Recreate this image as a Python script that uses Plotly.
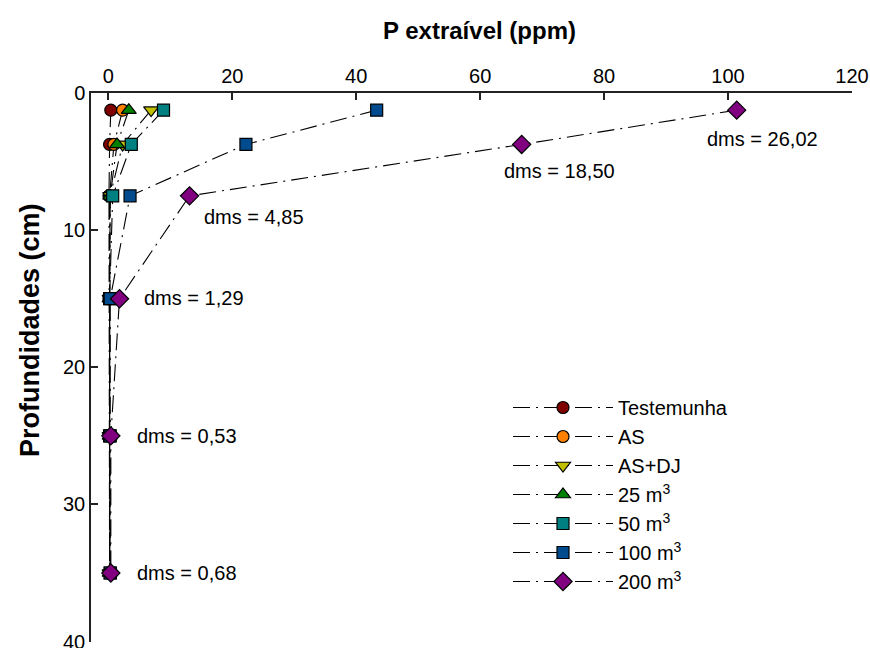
import plotly.graph_objects as go

depths = [1.25, 3.75, 7.5, 15, 25, 35]

series_names = ["Testemunha", "AS", "AS+DJ", "25 m<sup>3</sup>", "50 m<sup>3</sup>", "100 m<sup>3</sup>", "200 m<sup>3</sup>"]
testemunha = [0.4, 0.2, 0.1, 0.1, 0.2, 0.2]
as_vals = [2.3, 0.9, 0.2, 0.2, 0.2, 0.2]
asdj = [6.9, 2.3, 0.3, 0.2, 0.2, 0.2]
m25 = [3.3, 1.4, 0.3, 0.2, 0.2, 0.2]
m50 = [8.9, 3.7, 0.7, 0.2, 0.2, 0.3]
m100 = [43.3, 22.2, 3.5, 0.3, 0.3, 0.3]
m200 = [101.4, 66.7, 13.1, 1.8, 0.4, 0.4]

dms_labels = ["dms = 26,02", "dms = 18,50", "dms = 4,85", "dms = 1,29", "dms = 0,53", "dms = 0,68"]
dms_x = [96.2, 63.5, 15.1, 5.4, 4.3, 4.3]
dms_y = [3.35, 5.7, 9.04, 14.94, 25.0, 35.0]

x_ticks = [0, 20, 40, 60, 80, 100, 120]
y_ticks = [0, 10, 20, 30, 40]

all_vals = [testemunha, as_vals, asdj, m25, m50, m100, m200]
colors = ["#800000", "#FF8000", "#C0C000", "#008000", "#008080", "#004B8D", "#800080"]
symbols = ["circle", "circle", "triangle-down", "triangle-up", "square", "square", "diamond"]
sizes = [12, 12, 13, 13, 12, 12, 14]

FONT = "Arial, Liberation Sans, sans-serif"

fig = go.Figure()
for i, (name, vals) in enumerate(zip(series_names, all_vals)):
    fig.add_trace(go.Scatter(
        x=vals, y=depths, name=name, mode="lines+markers",
        legendgroup=f"g{i}",
        line=dict(color="black", width=1.1, dash="17px,6px,2px,6px"),
        marker=dict(symbol=symbols[i], size=sizes[i], color=colors[i],
                    line=dict(color="black", width=1.2)),
    ))

for t, xx, yy in zip(dms_labels, dms_x, dms_y):
    fig.add_annotation(x=xx, y=yy, text=t, showarrow=False, xanchor="left",
                       yanchor="middle", font=dict(family=FONT, size=20, color="black"))

fig.add_annotation(xref="paper", yref="paper", x=(480 - 91) / 761, y=1 + (93 - 30) / 549,
                   text="<b>P extraível (ppm)</b>", showarrow=False, xanchor="center", yanchor="middle",
                   font=dict(family=FONT, size=24, color="black"))
fig.add_annotation(xref="paper", yref="paper", x=(30 - 91) / 761, y=1 - (330 - 93) / 549,
                   text="<b>Profundidades (cm)</b>", showarrow=False, xanchor="center", yanchor="middle",
                   textangle=-90, font=dict(family=FONT, size=27, color="black"))

fig.update_layout(
    width=870, height=648,
    margin=dict(l=91, r=18, t=93, b=6, autoexpand=False),
    plot_bgcolor="white", paper_bgcolor="white",
    font=dict(family=FONT, size=20, color="black"),
    showlegend=True,
    legend=dict(x=(508 - 91) / 761, y=1 - (388 - 93) / 549, xanchor="left", yanchor="top",
                bgcolor="rgba(0,0,0,0)", itemwidth=100, tracegroupgap=0,
                font=dict(family=FONT, size=20, color="black")),
    xaxis=dict(side="top", range=[-2.8, 120], tickvals=x_ticks, ticks="inside", ticklen=7,
               showline=True, linecolor="#222", linewidth=1.5, tickcolor="#222", tickwidth=1.5,
               showgrid=False, zeroline=False, tickfont=dict(family=FONT, size=20),
               ticklabeloverflow="allow", automargin=False),
    yaxis=dict(range=[40.03, 0], tickvals=y_ticks, ticks="inside", ticklen=7,
               showline=True, linecolor="#222", linewidth=1.5, tickcolor="#222", tickwidth=1.5,
               showgrid=False, zeroline=False, tickfont=dict(family=FONT, size=20),
               ticklabeloverflow="allow", automargin=False),
)

fig.write_html("out.html")
